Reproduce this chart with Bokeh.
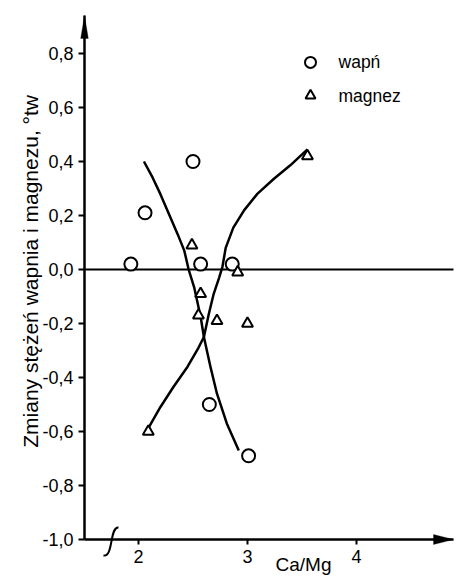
import math
from bokeh.plotting import figure
from bokeh.models import Label, PolyAnnotation, FixedTicker, CustomJSTickFormatter
from bokeh.core.properties import value
from bokeh.embed import file_html
from bokeh.resources import INLINE

# ---- data ----
wapn_x = [1.93, 2.06, 2.50, 2.57, 2.86, 2.65, 3.01]
wapn_y = [0.02, 0.21, 0.40, 0.02, 0.02, -0.50, -0.69]

magnez_x = [2.49, 2.57, 2.55, 2.72, 2.09, 2.91, 3.00, 3.55]
magnez_y = [0.09, -0.09, -0.17, -0.19, -0.60, -0.01, -0.20, 0.42]

wapn_fit_x = [2.05, 2.13, 2.20, 2.28, 2.36, 2.42, 2.46, 2.51, 2.57, 2.60, 2.66, 2.72, 2.81, 2.92]
wapn_fit_y = [0.40, 0.34, 0.28, 0.205, 0.13, 0.07, 0.0, -0.065, -0.175, -0.25, -0.36, -0.46, -0.57, -0.67]

magnez_fit_x = [2.08, 2.20, 2.32, 2.45, 2.55, 2.60, 2.645, 2.69, 2.74, 2.77, 2.80, 2.87, 2.97, 3.09, 3.24, 3.39, 3.55]
magnez_fit_y = [-0.595, -0.51, -0.435, -0.36, -0.29, -0.25, -0.165, -0.09, -0.03, 0.01, 0.08, 0.155, 0.22, 0.28, 0.335, 0.385, 0.445]

x_ticks = [2, 3, 4]
y_ticks = [-1.0, -0.8, -0.6, -0.4, -0.2, 0.0, 0.2, 0.4, 0.6, 0.8]

y_label = "Zmiany stężeń wapnia i magnezu, °tw"
x_label = "Ca/Mg"
legend_labels = ["wapń", "magnez"]

# ---- layout (pixel scale of the drawing) ----
W, H = 456, 577
PX_X = 109.0          # px per x unit
PX_Y = 270.0          # px per y unit
X_AT_PX138 = 2.0      # x value at page px 138
Y_AT_PX269 = 0.0      # y value at page px 269
XR = (X_AT_PX138 - 138 / PX_X, X_AT_PX138 + (W - 138) / PX_X)
YR = (Y_AT_PX269 - (H - 269) / PX_Y, Y_AT_PX269 + 269 / PX_Y)

X0, X1 = 1.5046, 4.890     # x-axis extent (axis origin .. arrow tip)
Y0, Y1 = -1.0, 0.941       # y-axis extent (axis origin .. arrow tip)
FONT = "Liberation Sans"

p = figure(width=W, height=H, x_range=XR, y_range=YR,
           output_backend="svg", toolbar_location=None,
           min_border_left=0, min_border_right=0, min_border_top=0, min_border_bottom=0)
p.outline_line_color = None
p.grid.visible = False
p.background_fill_color = "white"
p.border_fill_color = "white"

for ax in (p.xaxis[0], p.yaxis[0]):
    ax.axis_line_width = 2.5
    ax.axis_line_color = "black"
    ax.major_tick_line_width = 2
    ax.major_tick_line_color = "black"
    ax.major_tick_in = 0
    ax.minor_tick_line_color = None
    ax.major_label_text_font = FONT
    ax.major_label_text_font_size = "18px"
    ax.major_label_text_color = "black"
    ax.major_label_standoff = 5

p.xaxis.fixed_location = Y0
p.xaxis.bounds = (X0, X1)
p.xaxis.ticker = FixedTicker(ticks=x_ticks)
p.xaxis.major_tick_out = 5
p.yaxis.fixed_location = X0
p.yaxis.bounds = (Y0, Y1)
p.yaxis.ticker = FixedTicker(ticks=y_ticks)
p.yaxis.major_tick_out = 6
p.yaxis.formatter = CustomJSTickFormatter(code="return tick.toFixed(1).replace('.', ',');")

# zero line
p.segment(x0=[X0], y0=[0], x1=[X1], y1=[0], line_color="black", line_width=1.8)

# arrow heads
yl = 23.0 / PX_Y
yw = 3.8 / PX_X
p.add_layout(PolyAnnotation(xs=[X0 - yw, X0, X0 + yw], ys=[Y1 - yl, Y1, Y1 - yl],
                            fill_color="black", fill_alpha=1, line_color="black", line_width=1))
xl = 20.0 / PX_X
xw = 5.0 / PX_Y
p.add_layout(PolyAnnotation(xs=[X1 - xl, X1, X1 - xl], ys=[Y0 - xw, Y0, Y0 + xw],
                            fill_color="black", fill_alpha=1, line_color="black", line_width=1))

# axis break mark (small integral-like stroke on the x axis)
BREAK_X = 1.752
p.bezier(x0=[BREAK_X + 7 / PX_X], y0=[Y0 + 12 / PX_Y],
         x1=[BREAK_X - 8 / PX_X], y1=[Y0 - 16 / PX_Y],
         cx0=[BREAK_X - 2 / PX_X], cy0=[Y0 + 13 / PX_Y],
         cx1=[BREAK_X + 2 / PX_X], cy1=[Y0 - 18 / PX_Y],
         line_color="black", line_width=2)

# fitted curves
p.line(wapn_fit_x, wapn_fit_y, line_color="black", line_width=2.5, line_join="round")
p.line(magnez_fit_x, magnez_fit_y, line_color="black", line_width=2.5, line_join="round")

# points
p.scatter(wapn_x, wapn_y, marker="circle", size=13, line_color="black", line_width=2,
          fill_color="white")
p.scatter(magnez_x, magnez_y, marker="triangle", size=11, line_color="black", line_width=2,
          fill_color="white")

# legend
LEG_MX, LEG_TX = 3.578, 3.835
LEG_Y = [0.767, 0.644]
p.scatter([LEG_MX], [LEG_Y[0]], marker="circle", size=11, line_color="black", line_width=2,
          fill_color="white")
p.scatter([LEG_MX], [LEG_Y[1]], marker="triangle", size=10, line_color="black", line_width=2,
          fill_color="white")
p.text([LEG_TX, LEG_TX], LEG_Y, text=legend_labels, text_font=value(FONT),
       text_font_size="17.5px", text_baseline="middle", text_align="left", text_color="black")

# axis titles
p.add_layout(Label(x=X_AT_PX138 + (30 - 138) / PX_X, y=-0.007, text=y_label, angle=math.pi / 2,
                   text_font=FONT, text_font_size="21px", text_align="center",
                   text_baseline="alphabetic", text_color="black"))
p.add_layout(Label(x=X_AT_PX138 + (303 - 138) / PX_X, y=Y0 - 14.0 / PX_Y, text=x_label,
                   text_font=FONT, text_font_size="19px", text_align="center",
                   text_baseline="top", text_color="black"))

open("out.html", "w").write(file_html(p, INLINE))
